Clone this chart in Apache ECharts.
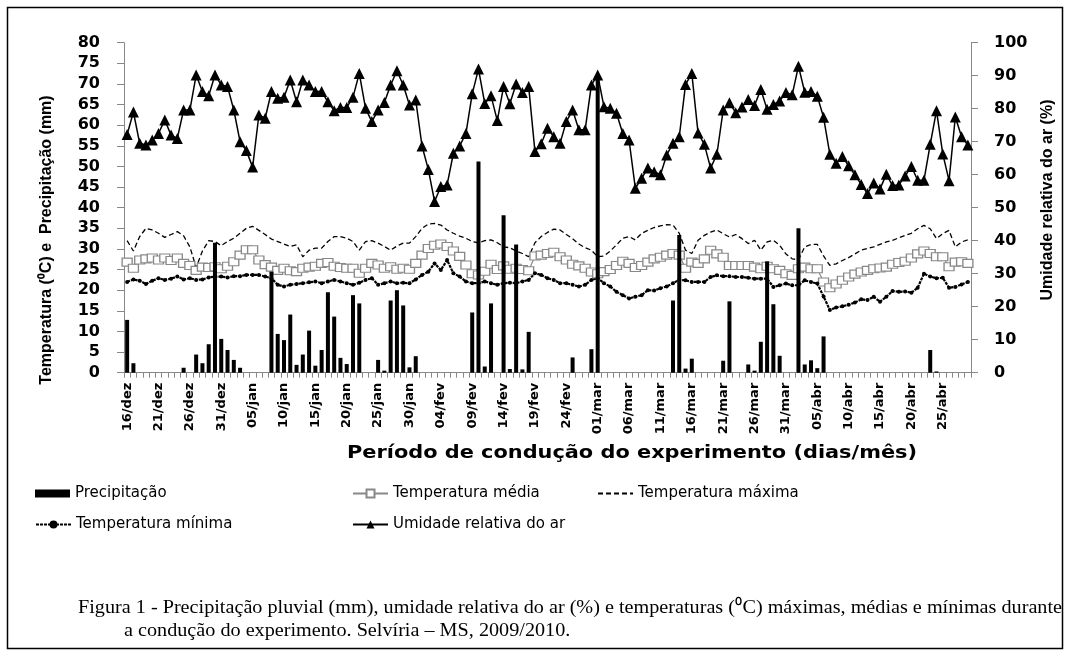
<!DOCTYPE html>
<html><head><meta charset="utf-8">
<script src="https://cdn.jsdelivr.net/npm/echarts@6/dist/echarts.min.js"></script>
<style>html,body{margin:0;padding:0;background:#fff}#c{width:1070px;height:656px}</style>
</head><body><div id="c"></div>
<script>
const dias = [
'16/dez','17/dez','18/dez','19/dez','20/dez','21/dez','22/dez','23/dez','24/dez','25/dez','26/dez','27/dez','28/dez','29/dez','30/dez','31/dez',
'01/jan','02/jan','03/jan','04/jan','05/jan','06/jan','07/jan','08/jan','09/jan','10/jan','11/jan','12/jan','13/jan','14/jan','15/jan','16/jan','17/jan','18/jan','19/jan','20/jan','21/jan','22/jan','23/jan','24/jan','25/jan','26/jan','27/jan','28/jan','29/jan','30/jan','31/jan',
'01/fev','02/fev','03/fev','04/fev','05/fev','06/fev','07/fev','08/fev','09/fev','10/fev','11/fev','12/fev','13/fev','14/fev','15/fev','16/fev','17/fev','18/fev','19/fev','20/fev','21/fev','22/fev','23/fev','24/fev','25/fev','26/fev','27/fev','28/fev',
'01/mar','02/mar','03/mar','04/mar','05/mar','06/mar','07/mar','08/mar','09/mar','10/mar','11/mar','12/mar','13/mar','14/mar','15/mar','16/mar','17/mar','18/mar','19/mar','20/mar','21/mar','22/mar','23/mar','24/mar','25/mar','26/mar','27/mar','28/mar','29/mar','30/mar','31/mar',
'01/abr','02/abr','03/abr','04/abr','05/abr','06/abr','07/abr','08/abr','09/abr','10/abr','11/abr','12/abr','13/abr','14/abr','15/abr','16/abr','17/abr','18/abr','19/abr','20/abr','21/abr','22/abr','23/abr','24/abr','25/abr','26/abr','27/abr','28/abr','29/abr'];

const precipitacao = [
12.8,2.3,0,0,0,0,0,0,0,1.2,
0,4.4,2.3,6.9,31.5,8.2,5.5,3.1,1.2,0,
0,0,0,24.5,9.4,7.9,14.1,1.9,4.4,10.2,
1.7,5.5,19.5,13.6,3.6,2.1,18.8,16.8,0,0,
3.1,0.5,17.5,20,16.3,1.3,4,0,0,0,
0,0,0,0,0,14.6,51.2,1.5,16.8,0,
38.2,0.9,31.1,0.8,9.9,0,0,0,0,0,
0,3.7,0,0,5.7,72,0,0,0,0,
0,0,0,0,0,0,0,17.5,33.4,1,
3.4,0,0,0,0,2.9,17.3,0,0,2,
0.5,7.5,27,16.6,4.1,0,0,35,2,3,
1.1,8.8,0,0,0,0,0,0,0,0,
0,0,0,0,0,0,0,0,5.5,0.3,
0,0,0,0,0];

const umidade = [
72.2,79,69.5,69,70.5,72.5,76.6,72,71,79.6,
79.6,90.2,85.2,83.9,90.2,87.2,86.7,79.6,70,67.3,
62.3,78.1,77.1,85.2,83.2,83.5,88.7,82.1,88.7,87.2,
85.2,85.2,82.1,79.4,80.4,80.4,83.5,90.7,80.1,76.1,
79.6,81.9,87.2,91.5,87.2,81.1,82.6,68.7,61.6,51.9,
56.4,56.9,66.5,68.7,72.5,84.5,92,81.6,83.9,76.4,
86.7,81.5,87.5,84.9,86.7,67,69.4,74.1,71.5,69.5,
76.1,79.6,73.6,73.6,87.2,90.2,80.6,80.1,78.6,72.5,
70.5,55.9,58.9,62,60.9,60,66,69.5,71.5,87.3,
90.7,72.6,69.2,62,66.2,79.6,81.8,78.8,80.5,82.8,
81,85.8,79.8,81.3,82.3,84.9,84.2,92.9,85,85.2,
83.8,77.4,66.2,63.5,65.5,62.7,60,57,54.3,57.5,
55.7,60.1,56.7,56.9,59.6,62.5,58.3,58.3,69.2,79.4,
66.3,58.2,77.5,71.5,69];

const tMax = [
32,29.5,33,35,34.6,33.8,32.8,33.5,34.2,33.2,
30.5,25.5,29.5,32,31.8,30.8,31.8,32.6,33.8,35,
35.5,34.5,33.5,32.4,31.8,31.2,30.6,31,28.1,29.7,
30.2,30.2,31.8,33,33,32.6,31.8,29.7,31.8,32,
31.4,30.6,29.7,30.7,31.4,31.4,33,35,36,36.2,
35.8,34.6,33.8,33.1,32.6,31.8,31.5,32,32.2,31.5,
30.5,30.3,29.5,28.9,28.1,31.5,33,34,34.8,34.6,
33.5,32.5,31.2,30.3,29.7,28.1,28.3,29.5,31,32.6,
33,32.2,33.8,34.5,35.2,35.6,35.9,35.8,33.8,29.7,
28.9,32.1,33.3,34.1,34.6,33.7,32.9,33.5,32.5,31.3,
32.1,29.7,31.7,32.1,30.9,28.8,27.6,27.4,30.5,31.1,
31.1,28.3,26,26.4,27.2,27.9,28.8,29.7,30.1,30.5,
31.1,31.7,32.1,32.7,33.3,33.8,34.9,35.7,34.9,32.5,
33.7,34.5,30.5,31.7,32.2];

const tMed = [
26.8,25.3,27.3,27.6,27.8,27.3,27.8,27.2,27.8,26.5,
26,24.8,25.6,25.5,25.7,25.2,25.8,26.9,28.5,29.8,
29.8,27.3,26.2,25.6,24.8,25.3,24.7,24.5,25.3,25.6,
25.8,26.5,26.7,25.8,25.5,25.3,25.3,24.1,25.3,26.5,
26.1,25.3,25.7,25.1,25.3,25.1,26.5,28.5,30.1,30.9,
31.2,30.6,29.5,28.2,26.1,24,23.7,24.6,26.3,25,
25.9,25.1,25.3,25,24.7,28.3,28.5,28.9,29.2,28.1,
27.3,26.3,25.9,25.3,24.4,24,24.5,25,26,27,
26.5,25.5,26,26.8,27.6,28,28.5,28.9,28.5,25.3,
26.8,26.5,27.6,29.7,28.8,28,26,26,26,26,
25.6,25.2,25.8,25.2,24.8,24,23.6,25.2,25.6,25.2,
25.2,22,20.6,21.5,22.4,23.2,23.9,24.4,24.8,25.2,
25.4,25.6,26.3,26.7,27,27.8,28.8,29.5,28.9,28.1,
28.1,25.7,26.8,26.9,26.5];

const tMin = [
22,22.6,22.3,21.5,22.3,22.9,22.5,22.8,23.3,22.6,
22.9,22.5,22.6,23.1,23.3,23.3,23.1,23.4,23.4,23.7,
23.7,23.7,23.3,22.9,21.3,20.9,21.3,21.5,21.7,21.9,
22.1,21.7,22.1,22.5,22.1,21.7,21.3,21.8,22.5,22.9,
21.3,21.7,22.1,21.7,21.8,21.7,22.6,23.7,24.5,26.5,
24.9,27.3,24.1,23.3,22.1,21.7,21.7,22.1,21.7,21.3,
21.7,21.8,21.7,22.1,22.5,24.1,23.7,22.9,22.5,21.7,
21.7,21.3,20.9,21.3,22.5,22.9,21.7,20.9,19.6,18.8,
18,18.4,18.8,20,19.9,20.5,20.9,21.7,22.5,22.4,
22,22,22,23.2,23.6,23.4,23.4,23.2,23.2,23,
22.8,22.8,22.8,20.8,21.2,21.6,21.2,21.2,22.4,22,
21.6,18.5,15.2,15.8,16.1,16.5,17,17.8,17.6,18.4,
17.2,18.4,19.8,19.6,19.7,19.4,20.6,24,23.3,22.9,
23,20.6,20.8,21.4,22];

const tituloEsq = 'Temperatura (\u2070C) e  Precipita\u00e7\u00e3o (mm)';
const tituloDir = 'Umidade relativa do ar (%)';
const tituloX = 'Per\u00edodo de condu\u00e7\u00e3o do experimento (dias/m\u00eas)';
const legenda1 = 'Figura 1 - Precipita\u00e7\u00e3o pluvial (mm), umidade relativa do ar (%) e temperaturas (\u2070C) m\u00e1ximas, m\u00e9dias e m\u00ednimas durante';
const legenda2 = 'a condu\u00e7\u00e3o do experimento. Selv\u00edria \u2013 MS, 2009/2010.';

function measure(text, font){
  const c = document.createElement('canvas').getContext('2d');
  c.font = font; return c.measureText(text).width;
}
const fontX = 'bold 17px "DejaVu Sans"';
const sx = 570 / measure(tituloX, fontX);
const fontCap = '19px "Liberation Serif"';
const sCap = 984 / measure(legenda1, fontCap);

const chart = echarts.init(document.getElementById('c'), null, {renderer:'canvas'});
const legTxt = {fontFamily:'DejaVu Sans', fontSize:15, color:'#000'};
function leg(name, left, top, extra){
  return Object.assign({data:[name], left:left, top:top, itemWidth:35, itemHeight:10, itemGap:4,
    selectedMode:false, textStyle:legTxt, padding:0}, extra||{});
}
const axisLbl = {fontFamily:'DejaVu Sans', fontWeight:'bold', fontSize:16, color:'#000'};
chart.setOption({
  animation:false,
  backgroundColor:'#fff',
  grid:{left:124, right:99, top:42.7, bottom:283.3, containLabel:false, outerBoundsMode:'none'},
  xAxis:{type:'category', data:dias, boundaryGap:true,
    axisLine:{lineStyle:{color:'#888', width:1}},
    axisTick:{show:true, interval:0, length:5, lineStyle:{color:'#888'}},
    axisLabel:{interval:4, rotate:90, margin:10, fontFamily:'DejaVu Sans', fontWeight:'bold', fontSize:13, color:'#000'}},
  yAxis:[
    {type:'value', min:0, max:80, interval:5, position:'left',
     axisLine:{show:true, lineStyle:{color:'#888'}}, axisTick:{show:true, length:7, lineStyle:{color:'#888'}},
     splitLine:{show:false}, axisLabel:Object.assign({margin:24}, axisLbl)},
    {type:'value', min:0, max:100, interval:10, position:'right',
     axisLine:{show:true, lineStyle:{color:'#888'}}, axisTick:{show:true, length:7, lineStyle:{color:'#888'}},
     splitLine:{show:false}, axisLabel:Object.assign({margin:23}, axisLbl)}
  ],
  legend:[
    leg('Precipita\u00e7\u00e3o', 35, 486, {icon:'rect', itemHeight:8}),
    leg('Temperatura m\u00e9dia', 352, 486),
    leg('Temperatura m\u00e1xima', 597, 486, {itemStyle:{opacity:0}}),
    leg('Temperatura m\u00ednima', 35, 517),
    leg('Umidade relativa do ar', 352, 517)
  ],
  series:[
    {name:'Temperatura m\u00e1xima', type:'line', data:tMax, symbol:'none',
     lineStyle:{color:'#000', width:1.3, type:[5,3]}, itemStyle:{color:'#000'}, z:2},
    {name:'Temperatura m\u00e9dia', type:'line', data:tMed, symbol:'rect', symbolSize:[10,8], showAllSymbol:true,
     lineStyle:{color:'#888', width:1.2}, itemStyle:{color:'#fff', borderColor:'#888', borderWidth:1.2}, z:2},
    {name:'Temperatura m\u00ednima', type:'line', data:tMin, symbol:'circle', symbolSize:4, showAllSymbol:true,
     lineStyle:{color:'#000', width:2.2, type:[3,1]}, itemStyle:{color:'#000'}, z:2},
    {name:'Precipita\u00e7\u00e3o', type:'bar', yAxisIndex:0, data:precipitacao, barWidth:4,
     itemStyle:{color:'#000'}, z:3},
    {name:'Umidade relativa do ar', type:'line', yAxisIndex:1, data:umidade, symbol:'triangle', symbolSize:11,
     showAllSymbol:true, lineStyle:{color:'#000', width:1.5}, itemStyle:{color:'#000'}, z:4}
  ],
  graphic:[
    {type:'rect', shape:{x:7.5, y:7.5, width:1055, height:641}, style:{fill:'none', stroke:'#000', lineWidth:1.5}, silent:true},
    {type:'text', x:47, y:240, rotation:Math.PI/2,
     style:{text:tituloEsq, font:'bold 16px "Liberation Sans"', align:'center', verticalAlign:'middle', fill:'#000'}},
    {type:'text', x:1048, y:200, rotation:Math.PI/2,
     style:{text:tituloDir, font:'bold 16px "Liberation Sans"', align:'center', verticalAlign:'middle', fill:'#000'}},
    {type:'text', x:632, y:454, scaleX:sx,
     style:{text:tituloX, font:fontX, align:'center', verticalAlign:'middle', fill:'#000'}},
    {type:'text', x:78, y:608, scaleX:sCap,
     style:{text:legenda1, font:fontCap, align:'left', verticalAlign:'middle', fill:'#000'}},
    {type:'text', x:124, y:631, scaleX:sCap,
     style:{text:legenda2, font:fontCap, align:'left', verticalAlign:'middle', fill:'#000'}}
  ]
});
</script></body></html>
